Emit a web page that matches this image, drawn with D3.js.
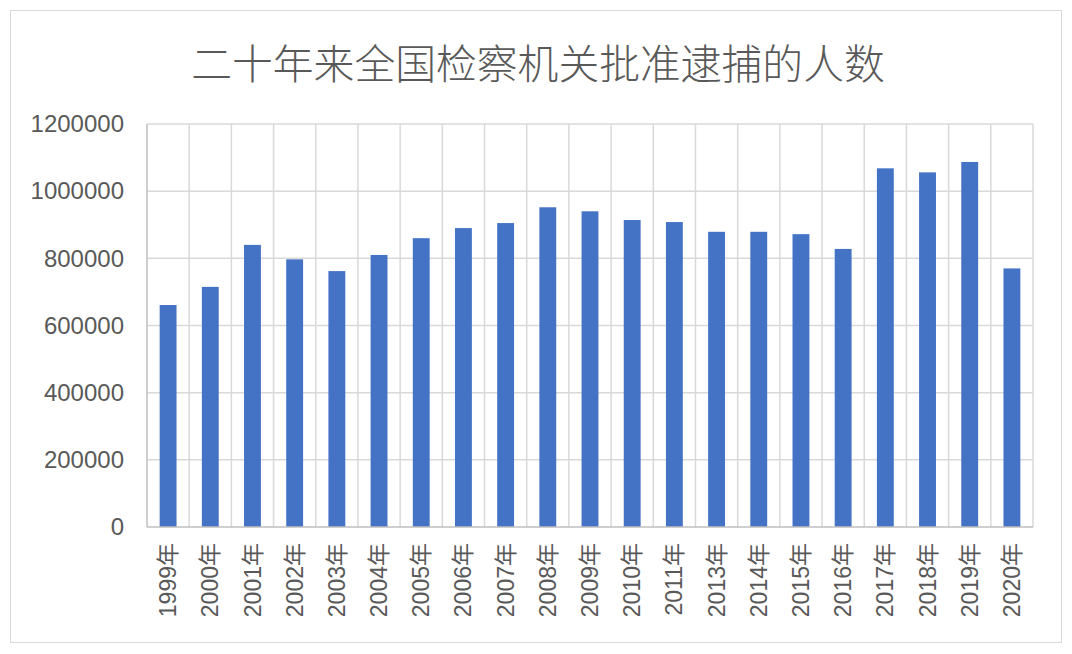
<!DOCTYPE html>
<html><head><meta charset="utf-8">
<script src="https://cdn.jsdelivr.net/npm/d3@7"></script>
<style>html,body{margin:0;padding:0;background:#fff;}</style>
</head><body>
<svg id="chart" width="1072" height="654"></svg>
<script>
const categories = ["1999年","2000年","2001年","2002年","2003年","2004年","2005年","2006年","2007年","2008年","2009年","2010年","2011年","2013年","2014年","2015年","2016年","2017年","2018年","2019年","2020年"];
const values = [661000,715000,840000,797000,762000,810000,860000,890000,905000,952000,940000,914000,908000,879000,879000,872000,828000,1068000,1056000,1087000,770000];
const yTicks = [0,200000,400000,600000,800000,1000000,1200000];
const title = "二十年来全国检察机关批准逮捕的人数";

const svg = d3.select("#chart");
const font = "'Liberation Sans', Arial, 'Noto Sans CJK SC', sans-serif";
const textColor = "#595959";

svg.append("rect").attr("x",10.5).attr("y",10.5).attr("width",1051).attr("height",632)
  .attr("fill","#fff").attr("stroke","#d9d9d9").attr("stroke-width",1);

const m = {left:147, right:1033, top:124, bottom:527};
const x = d3.scaleBand().domain(categories).range([m.left, m.right]).paddingInner(0.6).paddingOuter(0.3);
const y = d3.scaleLinear().domain([0,1200000]).range([m.bottom, m.top]);

// horizontal gridlines
svg.append("g").selectAll("line").data(yTicks.filter(d=>d>0)).join("line")
  .attr("x1",m.left).attr("x2",m.right).attr("y1",d=>y(d)).attr("y2",d=>y(d))
  .attr("stroke","#d9d9d9").attr("stroke-width",1.5);
// vertical gridlines at band boundaries
const step = x.step();
const bounds = d3.range(1, categories.length+1).map(i => m.left + i*step);
svg.append("g").selectAll("line").data(bounds).join("line")
  .attr("x1",d=>d).attr("x2",d=>d).attr("y1",m.top).attr("y2",m.bottom)
  .attr("stroke","#d9d9d9").attr("stroke-width",1.5);

// bars
svg.append("g").selectAll("rect").data(values).join("rect")
  .attr("x",(d,i)=>x(categories[i])).attr("width",x.bandwidth())
  .attr("y",d=>y(d)).attr("height",d=>y(0)-y(d)).attr("fill","#4472c4");

// axes lines
svg.append("line").attr("x1",m.left).attr("x2",m.left).attr("y1",m.top).attr("y2",m.bottom)
  .attr("stroke","#bfbfbf").attr("stroke-width",1.5);
svg.append("line").attr("x1",m.left).attr("x2",m.right).attr("y1",m.bottom).attr("y2",m.bottom)
  .attr("stroke","#bfbfbf").attr("stroke-width",1.5);

// y axis labels
const yAxis = d3.axisLeft(y).tickValues(yTicks).tickSize(0).tickPadding(23).tickFormat(d3.format("d"));
const gy = svg.append("g").attr("transform",`translate(${m.left},0)`).call(yAxis);
gy.select(".domain").remove();
gy.selectAll("text").attr("fill",textColor).style("font-family",font).style("font-size","24px");

// x axis labels
const xAxis = d3.axisBottom(x).tickSize(0);
const gx = svg.append("g").attr("transform",`translate(0,${m.bottom})`).call(xAxis);
gx.select(".domain").remove();
gx.selectAll("text").attr("fill",textColor).style("font-family",font).style("font-size","23px")
  .attr("transform","rotate(-90)").attr("text-anchor","end").attr("dy","0.35em").attr("x",-16).attr("y",0);

// title
svg.append("text").attr("x",538).attr("y",61).attr("text-anchor","middle").attr("dominant-baseline","central")
  .attr("fill",textColor).style("font-family","'Noto Sans CJK SC', sans-serif").style("font-weight","300")
  .style("font-size","40.8px").text(title);
</script>
</body></html>
